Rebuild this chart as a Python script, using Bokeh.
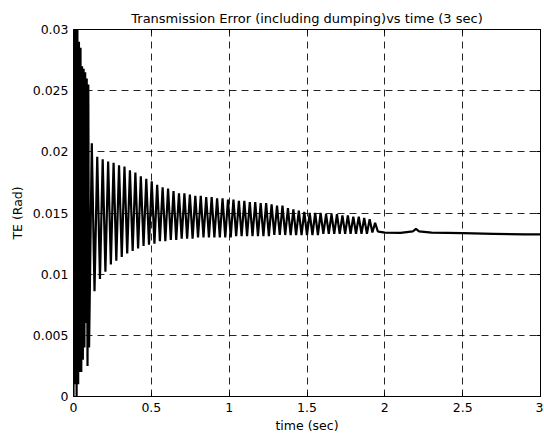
import numpy as np
from bokeh.plotting import figure
from bokeh.models import LinearAxis, FixedTicker, Range1d
from bokeh.embed import file_html
from bokeh.resources import INLINE

TITLE = "Transmission Error (including dumping)vs time (3 sec)"
X_LABEL = "time (sec)"
Y_LABEL = "TE (Rad)"

x_ticks = [0, 0.5, 1, 1.5, 2, 2.5, 3]
x_tick_labels = ["0", "0.5", "1", "1.5", "2", "2.5", "3"]
y_ticks = [0, 0.005, 0.01, 0.015, 0.02, 0.025, 0.03]
y_tick_labels = ["0", "0.005", "0.01", "0.015", "0.02", "0.025", "0.03"]

# start-up transient (dense)
t_early = [0.000, 0.005, 0.010, 0.015, 0.020, 0.025, 0.030, 0.035, 0.040, 0.045,
           0.050, 0.055, 0.060, 0.065, 0.070, 0.075, 0.080, 0.085, 0.090, 0.095]
te_early = [0.0000, 0.0300, 0.0010, 0.0300, 0.0000, 0.0300, 0.0010, 0.0290, 0.0020, 0.0285,
            0.0020, 0.0270, 0.0030, 0.0268, 0.0040, 0.0265, 0.0060, 0.0260, 0.0025, 0.0255]

# oscillation troughs / peaks every half period (0.0175 s) from t = 0.1 s
t_osc = np.round(0.1 + 0.0175 * np.arange(106), 4)
te_osc = [
    0.0040, 0.0207, 0.0086, 0.0196, 0.0096, 0.0194, 0.0102, 0.0192, 0.0108, 0.0191,
    0.0111, 0.0189, 0.0114, 0.0188, 0.0117, 0.0185, 0.0119, 0.0183, 0.0121, 0.0180,
    0.0123, 0.0178, 0.0124, 0.0176, 0.0125, 0.0173, 0.0127, 0.0171, 0.0127, 0.0170,
    0.0128, 0.0168, 0.0128, 0.0166, 0.0129, 0.0166, 0.0129, 0.0165, 0.0129, 0.0164,
    0.0130, 0.0164, 0.0130, 0.0163, 0.0130, 0.0163, 0.0130, 0.0162, 0.0130, 0.0162,
    0.0130, 0.0161, 0.0130, 0.0161, 0.0131, 0.0160, 0.0131, 0.0160, 0.0131, 0.0159,
    0.0131, 0.0159, 0.0131, 0.0158, 0.0131, 0.0158, 0.0131, 0.0157, 0.0132, 0.0156,
    0.0132, 0.0156, 0.0132, 0.0154, 0.0132, 0.0153, 0.0132, 0.0152, 0.0132, 0.0151,
    0.0132, 0.0150, 0.0132, 0.0150, 0.0132, 0.0150, 0.0133, 0.0149, 0.0133, 0.0149,
    0.0133, 0.0149, 0.0133, 0.0148, 0.0133, 0.0148, 0.0133, 0.0147, 0.0133, 0.0147,
    0.0133, 0.0146, 0.0133, 0.0145, 0.0134, 0.0142,
]

# settled tail
t_tail = [1.955, 1.970, 2.000, 2.100, 2.180, 2.200, 2.220, 2.300, 2.500, 2.700, 2.900, 3.000]
te_tail = [0.01350, 0.01345, 0.01340, 0.01338, 0.01350, 0.01370, 0.01350, 0.01340,
           0.01335, 0.01330, 0.01325, 0.01325]

t_all = list(t_early) + list(t_osc) + list(t_tail)
te_all = list(te_early) + list(te_osc) + list(te_tail)

FONT = "DejaVu Sans"
FS = "12.5px"

p = figure(frame_width=467, frame_height=367, output_backend="svg", toolbar_location=None,
           x_range=Range1d(0, 3), y_range=Range1d(0, 0.03), title=TITLE,
           min_border_left=73, min_border_right=3, min_border_top=29, min_border_bottom=39,
           background_fill_color="white", border_fill_color="white")

p.line(t_all, te_all, line_color="black", line_width=2.2)

p.title.align = "center"
p.title.text_font = FONT
p.title.text_font_size = "13px"
p.title.text_font_style = "normal"
p.title.text_color = "black"
p.title.offset = 0
p.title.standoff = 8

p.outline_line_color = "black"
p.outline_line_width = 1

for ax, ticks, labels in ((p.xaxis[0], x_ticks, x_tick_labels), (p.yaxis[0], y_ticks, y_tick_labels)):
    ax.ticker = FixedTicker(ticks=ticks)
    ax.major_label_overrides = {t: l for t, l in zip(ticks, labels)}
    ax.major_tick_in = 4
    ax.major_tick_out = 0
    ax.minor_tick_line_color = None
    ax.axis_line_color = "black"
    ax.major_tick_line_color = "black"
    ax.major_label_text_font = FONT
    ax.major_label_text_font_size = FS
    ax.major_label_text_color = "black"
    ax.axis_label_text_font = FONT
    ax.axis_label_text_font_size = FS
    ax.axis_label_text_font_style = "normal"
    ax.axis_label_text_color = "black"

p.xaxis.axis_label = X_LABEL
p.yaxis.axis_label = Y_LABEL
p.xaxis.major_label_standoff = 6
p.yaxis.major_label_standoff = 5
p.xaxis.axis_label_standoff = 3
p.yaxis.axis_label_standoff = 5

for loc, ticks in (("right", y_ticks), ("above", x_ticks)):
    ax = LinearAxis(ticker=FixedTicker(ticks=ticks))
    ax.major_label_overrides = {t: "" for t in ticks}
    ax.major_tick_in = 4
    ax.major_tick_out = 0
    ax.minor_tick_line_color = None
    ax.major_label_standoff = 0
    ax.axis_line_color = "black"
    ax.major_tick_line_color = "black"
    p.add_layout(ax, loc)

for g in (p.xgrid[0], p.ygrid[0]):
    g.grid_line_color = "black"
    g.grid_line_dash = "7 5"
    g.grid_line_width = 1
    g.grid_line_alpha = 0.85

open("out.html", "w").write(file_html(p, INLINE))
